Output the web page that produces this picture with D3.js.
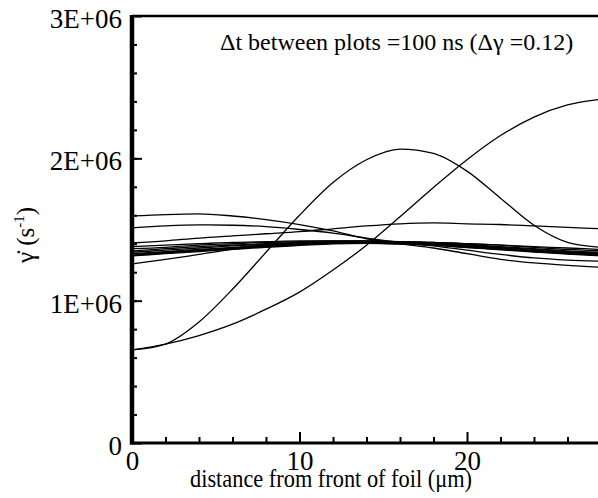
<!DOCTYPE html>
<html>
<head>
<meta charset="utf-8">
<script src="https://cdn.jsdelivr.net/npm/d3@7"></script>
<style>
  body { margin: 0; background: #fff; }
</style>
</head>
<body>
<svg id="chart" width="598" height="498"></svg>
<script>
'use strict';

var serif = '"Liberation Serif", "Times New Roman", Times, serif';

// Distance from front of foil (um), shared by every snapshot.
var xs = [0, 2, 4, 6, 8, 10, 12, 14, 16, 18, 20, 22, 24, 26, 28];

// Shear rate snapshots, in units of 1E+06 s^-1.
var peakCurve    = [0.654, 0.695, 0.85, 1.08, 1.34, 1.60, 1.83, 1.99, 2.065, 2.035, 1.91, 1.72, 1.53, 1.41, 1.375];
var risingCurve  = [0.654, 0.695, 0.755, 0.835, 0.94, 1.06, 1.215, 1.39, 1.59, 1.795, 1.99, 2.16, 2.29, 2.375, 2.415];
var flatHigh     = [1.595, 1.605, 1.61, 1.595, 1.57, 1.535, 1.49, 1.435, 1.40, 1.37, 1.33, 1.29, 1.265, 1.248, 1.235];
var flatMid      = [1.511, 1.525, 1.532, 1.53, 1.52, 1.50, 1.475, 1.44, 1.41, 1.385, 1.355, 1.325, 1.30, 1.285, 1.277];
var flatRising   = [1.405, 1.42, 1.44, 1.455, 1.47, 1.485, 1.505, 1.525, 1.54, 1.546, 1.54, 1.535, 1.525, 1.515, 1.505];
var flatLow      = [1.258, 1.29, 1.325, 1.36, 1.385, 1.40, 1.41, 1.415, 1.415, 1.41, 1.40, 1.39, 1.38, 1.37, 1.36];
var band1 = [1.38, 1.39, 1.40, 1.41, 1.415, 1.42, 1.42, 1.42, 1.415, 1.41, 1.40, 1.39, 1.375, 1.36, 1.35];
var band2 = [1.365, 1.375, 1.39, 1.40, 1.41, 1.415, 1.42, 1.42, 1.415, 1.405, 1.395, 1.38, 1.365, 1.35, 1.34];
var band3 = [1.35, 1.365, 1.38, 1.39, 1.40, 1.41, 1.415, 1.415, 1.41, 1.40, 1.39, 1.375, 1.36, 1.345, 1.335];
var band4 = [1.34, 1.355, 1.37, 1.385, 1.395, 1.405, 1.41, 1.412, 1.41, 1.40, 1.385, 1.37, 1.355, 1.34, 1.33];
var band5 = [1.33, 1.345, 1.36, 1.375, 1.39, 1.40, 1.408, 1.41, 1.405, 1.395, 1.38, 1.365, 1.35, 1.335, 1.325];
var band6 = [1.325, 1.34, 1.355, 1.37, 1.385, 1.395, 1.405, 1.408, 1.403, 1.393, 1.378, 1.362, 1.347, 1.332, 1.32];
var band7 = [1.32, 1.335, 1.35, 1.365, 1.38, 1.392, 1.402, 1.405, 1.40, 1.39, 1.375, 1.36, 1.345, 1.33, 1.318];
var band8 = [1.315, 1.33, 1.345, 1.36, 1.375, 1.388, 1.40, 1.403, 1.398, 1.388, 1.373, 1.357, 1.342, 1.327, 1.315];

var series = [ peakCurve, risingCurve, flatHigh, flatMid, flatRising, flatLow,
               band1, band2, band3, band4, band5, band6, band7, band8 ];

var xTickValues = [0, 10, 20];
var xTickLabels = ['0', '10', '20'];
var yTickValues = [0, 1, 2, 3];
var yTickLabels = ['0', '1E+06', '2E+06', '3E+06'];

var svg = d3.select('#chart');

var plotLeft = 132, plotRight = 601, plotTop = 16, plotBottom = 443;

var x = d3.scaleLinear().domain([0, 28]).range([plotLeft, plotRight]);
var y = d3.scaleLinear().domain([0, 3]).range([plotBottom, plotTop]);

// Curves, clipped to the plot box.
svg.append('clipPath').attr('id', 'plot-clip')
  .append('rect')
    .attr('x', plotLeft).attr('y', plotTop)
    .attr('width', plotRight - plotLeft).attr('height', plotBottom - plotTop);

var line = d3.line()
  .x(function(d, i) { return x(xs[i]); })
  .y(function(d) { return y(d); })
  .curve(d3.curveMonotoneX);

svg.append('g')
    .attr('clip-path', 'url(#plot-clip)')
  .selectAll('path')
  .data(series)
  .enter().append('path')
    .attr('d', line)
    .attr('fill', 'none')
    .attr('stroke', '#000')
    .attr('stroke-width', 1.3);

// Minor ticks (inward, no labels).
svg.append('g')
    .attr('transform', 'translate(' + plotLeft + ',0)')
    .call(d3.axisLeft(y).tickValues(d3.range(0.2, 3, 0.2)).tickSizeInner(-5).tickSizeOuter(0).tickFormat(''))
    .call(function(g) { g.select('.domain').remove(); g.selectAll('line').attr('stroke-width', 2); });

svg.append('g')
    .attr('transform', 'translate(0,' + plotBottom + ')')
    .call(d3.axisBottom(x).tickValues([2, 4, 6, 8, 12, 14, 16, 18, 22, 24, 26]).tickSizeInner(-6).tickSizeOuter(0).tickFormat(''))
    .call(function(g) { g.select('.domain').remove(); g.selectAll('line').attr('stroke-width', 2); });

// Major ticks and labels.
svg.append('g')
    .attr('transform', 'translate(' + plotLeft + ',0)')
    .call(d3.axisLeft(y).tickValues(yTickValues).tickSizeInner(-10).tickSizeOuter(0).tickPadding(10)
      .tickFormat(function(d, i) { return yTickLabels[i]; }))
    .call(function(g) {
      g.select('.domain').remove();
      g.selectAll('line').attr('stroke-width', 2);
      g.selectAll('text')
        .attr('font-family', serif)
        .attr('font-size', 27)
        .attr('dy', '0.42em');
    });

svg.append('g')
    .attr('transform', 'translate(0,' + plotBottom + ')')
    .call(d3.axisBottom(x).tickValues(xTickValues).tickSizeInner(-11).tickSizeOuter(0).tickPadding(0)
      .tickFormat(function(d, i) { return xTickLabels[i]; }))
    .call(function(g) {
      g.select('.domain').remove();
      g.selectAll('line').attr('stroke-width', 2);
      g.selectAll('text')
        .attr('font-family', serif)
        .attr('font-size', 27)
        .attr('y', 27)
        .attr('dy', 0);
    });

// Axis frame: heavy left and bottom, lighter top.
svg.append('line')
    .attr('x1', plotLeft).attr('x2', plotLeft).attr('y1', plotTop - 1).attr('y2', plotBottom + 1.5)
    .attr('stroke', '#000').attr('stroke-width', 4.5);
svg.append('line')
    .attr('x1', plotLeft - 2).attr('x2', plotRight).attr('y1', plotBottom).attr('y2', plotBottom)
    .attr('stroke', '#000').attr('stroke-width', 3);
svg.append('line')
    .attr('x1', plotLeft).attr('x2', plotRight).attr('y1', plotTop).attr('y2', plotTop)
    .attr('stroke', '#000').attr('stroke-width', 2.5);

// Titles.
svg.append('text')
    .attr('x', 190).attr('y', 487)
    .attr('font-family', serif)
    .attr('font-size', 26)
    .attr('textLength', 282)
    .attr('lengthAdjust', 'spacingAndGlyphs')
    .text('distance from front of foil (\u03bcm)');

var yTitle = svg.append('text')
    .attr('transform', 'translate(34,235) rotate(-90)')
    .attr('text-anchor', 'middle')
    .attr('font-family', serif)
    .attr('font-size', 25);
yTitle.append('tspan').text('\u03b3\u0307 (s');
yTitle.append('tspan').attr('font-size', 15).attr('dy', -10).text('-1');
yTitle.append('tspan').attr('dy', 10).text(')');

svg.append('text')
    .attr('x', 220).attr('y', 50)
    .attr('font-family', serif)
    .attr('font-size', 24)
    .text('\u0394t between plots =100 ns (\u0394\u03b3 =0.12)');
</script>
</body>
</html>
